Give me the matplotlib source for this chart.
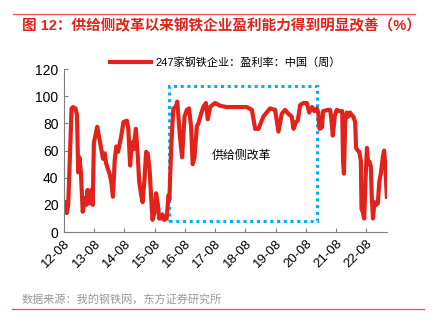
import matplotlib
matplotlib.use('Agg')
import matplotlib.pyplot as plt
from matplotlib.patches import Rectangle

plt.rcParams['font.family'] = ['Liberation Sans', 'Noto Sans CJK SC']

# weekly profit ratio (decimal years)
years = [
    2012.60, 2012.67, 2012.72, 2012.78, 2012.83, 2012.88, 2012.96, 2013.01, 2013.05, 2013.09,
    2013.14, 2013.20, 2013.27, 2013.31, 2013.36, 2013.42, 2013.49, 2013.53, 2013.57, 2013.62,
    2013.68, 2013.75, 2013.82, 2013.87, 2013.93, 2013.97, 2014.04, 2014.10, 2014.15, 2014.20,
    2014.26, 2014.31, 2014.37, 2014.47, 2014.55, 2014.66, 2014.71, 2014.77, 2014.83, 2014.88,
    2014.96, 2015.02, 2015.07, 2015.13, 2015.18, 2015.24, 2015.30, 2015.35, 2015.41, 2015.46,
    2015.51, 2015.57, 2015.63, 2015.69, 2015.73, 2015.80, 2015.84, 2015.90, 2015.98, 2016.04,
    2016.07, 2016.13, 2016.20, 2016.28, 2016.33, 2016.42, 2016.49, 2016.57, 2016.65, 2016.72,
    2016.79, 2016.84, 2016.90, 2016.98, 2017.03, 2017.12, 2017.19, 2017.28, 2017.34, 2017.42,
    2017.52, 2017.58, 2017.75, 2017.97, 2018.30, 2018.63, 2018.80, 2018.91, 2019.02, 2019.18,
    2019.40, 2019.57, 2019.68, 2019.79, 2019.90, 2020.01, 2020.12, 2020.18, 2020.26, 2020.32,
    2020.40, 2020.51, 2020.62, 2020.70, 2020.79, 2020.87, 2020.95, 2021.00, 2021.04, 2021.12,
    2021.16, 2021.33, 2021.39, 2021.43, 2021.48, 2021.55, 2021.61, 2021.70, 2021.79, 2021.82,
    2021.85, 2021.89, 2021.94, 2022.00, 2022.05, 2022.11, 2022.16, 2022.22, 2022.25, 2022.31,
    2022.36, 2022.41, 2022.43, 2022.47, 2022.52, 2022.56, 2022.61, 2022.65, 2022.69, 2022.74,
    2022.77, 2022.81, 2022.86, 2022.91, 2022.97, 2023.02, 2023.07, 2023.14, 2023.18, 2023.22,
    2023.27,
]
profit = [
    22, 14, 20, 60, 91, 92, 91, 86, 44, 55,
    44, 15, 25, 20, 31, 21, 31, 20, 66, 71,
    77.5, 69, 60, 54, 58, 51, 46, 42, 36, 26,
    53, 63, 59, 70, 81, 82, 76, 49, 66, 61,
    76, 57, 37, 28, 22, 37, 59, 58, 47, 28,
    9, 14, 28.5, 20, 10, 10, 13, 9, 10, 27,
    24, 63, 91, 92, 96, 70, 55, 85, 90, 91,
    77, 50, 55, 78, 80, 87, 92, 95, 83, 92,
    94, 95, 93, 92, 92, 92, 90, 76, 76, 85,
    91, 90, 74, 87, 90, 87, 85, 76, 81, 82,
    93.5, 95, 95, 88, 92, 89, 91, 88, 76, 77,
    89, 90, 90, 84, 71, 86, 90, 89, 89, 52,
    43, 81, 88, 85, 88, 86, 85, 81, 62, 60,
    59, 52, 17, 15, 10, 37, 62, 50, 52, 48,
    26, 10, 22, 20, 21, 37, 43, 56, 60, 48,
    26,
]

tick_years = [2012.583 + k for k in range(11)]
tick_labels = ['%02d-08' % (12 + k) for k in range(11)]
yticks = [0, 20, 40, 60, 80, 100, 120]

box_x = [2016.06, 2020.96]
box_y = [8, 107.5]

red = '#E3231B'
grey = '#7f7f7f'

fig = plt.figure(figsize=(4.36, 3.32), dpi=100)
ax = fig.add_axes([0.147, 0.301, 0.741, 0.491])

ax.plot(years, profit, color=red, lw=3.0, solid_joinstyle='round',
        label='247家钢铁企业：盈利率：中国（周）')

ax.add_patch(Rectangle((box_x[0], box_y[0]), box_x[1] - box_x[0], box_y[1] - box_y[0],
                       fill=False, edgecolor='#00B0F0', lw=2.2, linestyle=(0, (1, 1.2))))
ax.text(sum(box_x) / 2 - 0.05, 56, '供给侧改革', fontsize=8.6, ha='center', va='center')

ax.set_xlim(2012.583, 2023.28)
ax.set_ylim(0, 120)
ax.set_xticks(tick_years)
ax.set_xticklabels(tick_labels, rotation=45, ha='right', va='top', rotation_mode='anchor', fontsize=9.5)
ax.set_yticks(yticks)
ax.tick_params(axis='y', labelsize=10)
ax.tick_params(direction='in', length=3, color=grey, pad=4)
for s in ['top', 'right']:
    ax.spines[s].set_visible(False)
for s in ['left', 'bottom']:
    ax.spines[s].set_color(grey)
    ax.spines[s].set_linewidth(0.8)

ax.legend(loc='lower center', bbox_to_anchor=(0.5, 0.98), frameon=False, fontsize=8,
          handlelength=3.7, handletextpad=0.4, borderaxespad=0)

fig.text(0.05, 0.921, '图 12：供给侧改革以来钢铁企业盈利能力得到明显改善（%）',
         color=red, fontsize=10.5, fontweight='bold', va='center', ha='left')
fig.add_artist(plt.Line2D([0.03, 0.952], [0.957, 0.957], color='#E8504C', lw=0.9))
fig.text(0.05, 0.097, '数据来源：我的钢铁网，东方证券研究所', color='#999999', fontsize=8,
         va='center', ha='left')
fig.add_artist(plt.Line2D([0.028, 0.973], [0.069, 0.069], color='#E8504C', lw=0.9))

fig.savefig('out.png', dpi=100)
